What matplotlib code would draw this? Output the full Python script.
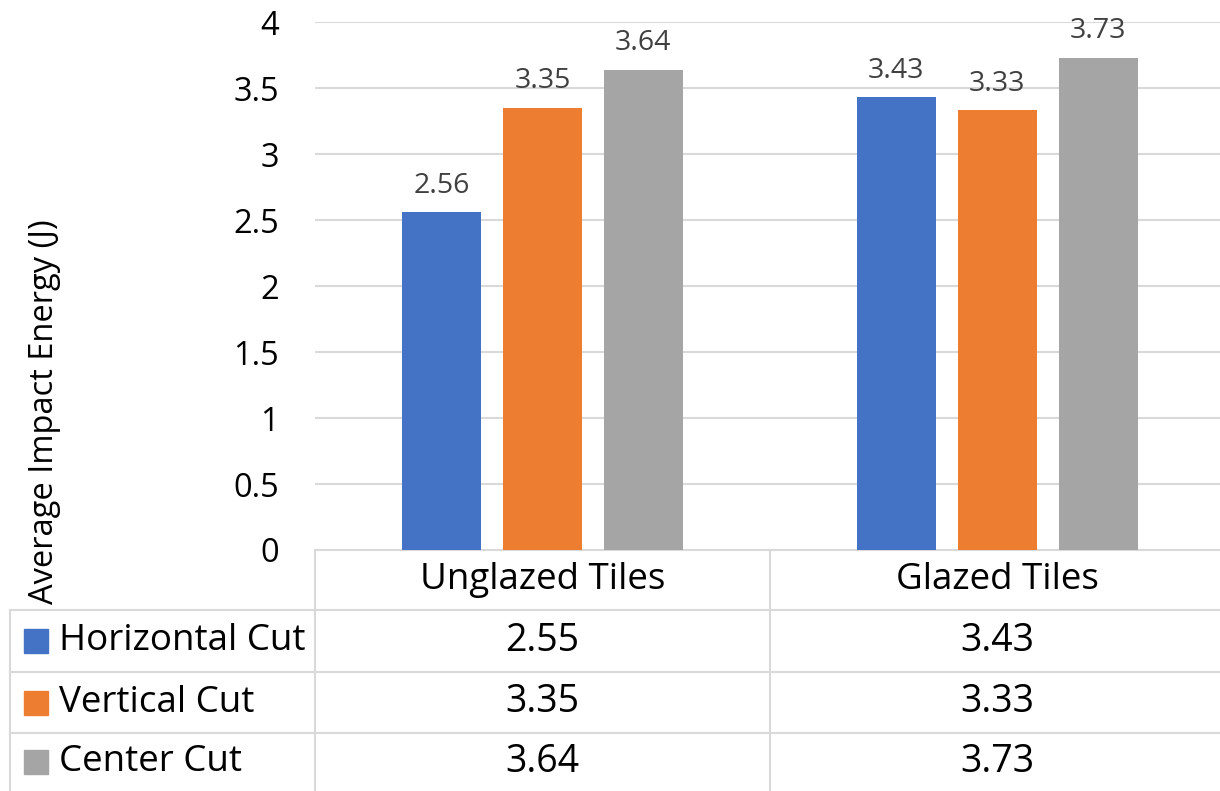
import matplotlib
matplotlib.use('Agg')
import matplotlib.pyplot as plt
import matplotlib.transforms as mtransforms
from matplotlib.lines import Line2D
from matplotlib.patches import Rectangle
import numpy as np

plt.rcParams['font.family'] = ['Open Sans', 'DejaVu Sans']

# 타일 종류별 평균 충격 에너지
categories = ['Unglazed Tiles', 'Glazed Tiles']
series_names = ['Horizontal Cut', 'Vertical Cut', 'Center Cut']
horizontal_cut = [2.56, 3.43]
vertical_cut = [3.35, 3.33]
center_cut = [3.64, 3.73]
# 아래 표에 적힌 값
table_horizontal = ['2.55', '3.43']
table_vertical = ['3.35', '3.33']
table_center = ['3.64', '3.73']
yticks = [0, 0.5, 1, 1.5, 2, 2.5, 3, 3.5, 4]
ytick_labels = ['0', '0.5', '1', '1.5', '2', '2.5', '3', '3.5', '4']

colors = ['#4472C4', '#ED7D31', '#A5A5A5']
grid_c = '#D9D9D9'

W, H = 1220, 791
fig = plt.figure(figsize=(W / 100, H / 100), dpi=100)
ax = fig.add_axes([315 / W, 1 - 550 / H, (W - 315) / W, (550 - 22) / H])

x = np.arange(len(categories))
bw = 0.174
step = 0.222
all_series = [horizontal_cut, vertical_cut, center_cut]
for i, vals in enumerate(all_series):
    pos = x + (i - 1) * step
    ax.bar(pos, vals, width=bw, color=colors[i], zorder=3)
    for p, v in zip(pos, vals):
        ax.annotate(f'{v:.2f}', (p, v), xytext=(0, 14), textcoords='offset points',
                    ha='center', va='baseline', fontsize=20.5, color='#404040')

ax.set_xlim(-0.5, 1.49)
ax.set_ylim(0, 4)
ax.set_yticks(yticks)
ax.set_yticklabels(ytick_labels, fontsize=23.5)
ax.set_xticks([])
ax.tick_params(axis='y', length=0, pad=26)
ax.grid(axis='y', color=grid_c, linewidth=1.5, zorder=0)
for s in ax.spines.values():
    s.set_visible(False)

fig.text(45 / W, 1 - 412 / H, 'Average Impact Energy (J)', rotation=90,
         ha='center', va='center', fontsize=23.5)

# 데이터 표
tr = mtransforms.blended_transform_factory(ax.transData, fig.transFigure)
fy = lambda py: 1 - py / H
rows = [550, 610, 672, 733, 791]
left_px = 10 / W

# 가로선
ax.add_line(Line2D([-0.5, 1.6], [fy(550)] * 2, transform=tr, color=grid_c,
                   lw=1.5, clip_on=False))
for ry in rows[1:4]:
    fig.add_artist(Line2D([left_px, 1], [fy(ry)] * 2, color=grid_c, lw=1.5))
# 세로선
for cx in [-0.5, 0.5]:
    ax.add_line(Line2D([cx, cx], [fy(550), 0], transform=tr, color=grid_c,
                       lw=1.5, clip_on=False))
fig.add_artist(Line2D([left_px, left_px], [fy(610), 0], color=grid_c, lw=1.5))

for ci, cat in enumerate(categories):
    ax.text(ci, fy((rows[0] + rows[1]) / 2), cat, transform=tr, ha='center',
            va='center', fontsize=26.5)

table_vals = [table_horizontal, table_vertical, table_center]
for ri, name in enumerate(series_names):
    cy = fy((rows[ri + 1] + rows[ri + 2]) / 2)
    fig.add_artist(Rectangle((24 / W, cy - 12 / H), 24 / W, 24 / H,
                             transform=fig.transFigure, color=colors[ri]))
    fig.text(59 / W, cy, name, ha='left', va='center', fontsize=26.5)
    for ci, txt in enumerate(table_vals[ri]):
        ax.text(ci, cy, txt, transform=tr, ha='center', va='center',
                fontsize=27)

fig.savefig('out.png', dpi=100)
